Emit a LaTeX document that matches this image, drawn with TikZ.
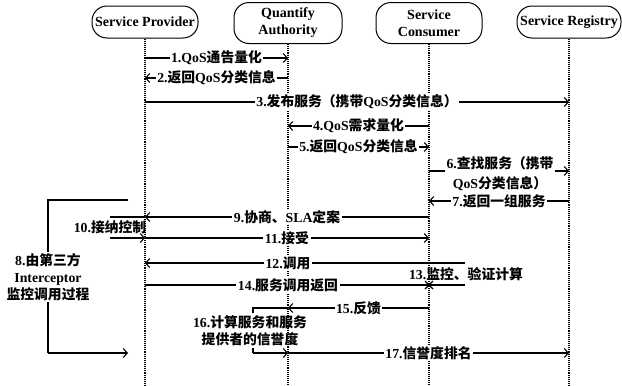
\documentclass[tikz,border=0pt]{standalone}
\usepackage{fontspec}
\setmainfont{Liberation Serif}
\newfontfamily\cjk{Noto Sans CJK SC}
\newcommand\zh[1]{{\cjk #1}}
\usetikzlibrary{arrows.meta,calc}
\begin{document}
\begin{tikzpicture}[x=1pt,y=-1pt,
  actor/.style={draw, line width=1pt, rounded corners=15pt, minimum height=32pt,
    minimum width=106pt, align=center, inner sep=1pt,
    font=\fontsize{14}{17}\selectfont\bfseries},
  life/.style={densely dotted, line width=1.1pt},
  plainln/.style={line width=1.1pt},
  msg/.style={line width=1.1pt, -{Straight Barb[length=4pt,width=9pt]}},
  lbl/.style={fill=white, inner sep=1.5pt, align=center,
    font=\fontsize{13.8}{20}\selectfont\bfseries}
]
\useasboundingbox (0,0) rectangle (622,386);
% actors
\node[actor] (sp) at (145,22) {Service Provider};
\node[actor, minimum height=41pt, minimum width=108pt] (qa) at (288,23) {Quantify\\Authority};
\node[actor, minimum height=41pt] (sc) at (429,23) {Service\\Consumer};
\node[actor, minimum width=104pt] (sr) at (569,22) {Service Registry};
% row coordinates
\coordinate (bot) at (0,386);
\coordinate (r1) at (0,58);
\coordinate (r2) at (0,78);
\coordinate (r3) at (0,102);
\coordinate (r4) at (0,126);
\coordinate (r5) at (0,147);
\coordinate (r6) at (0,171);
\coordinate (r7) at (0,201);
\coordinate (r9) at (0,217);
\coordinate (r11) at (0,238);
\coordinate (r12) at (0,263);
\coordinate (r14) at (0,285);
\coordinate (r15) at (0,308);
\coordinate (r17) at (0,353);
% lifelines
\draw[life] (sp.south) -- (sp |- bot);
\draw[life] (qa.south) -- (qa |- bot);
\draw[life] (sc.south) -- (sc |- bot);
\draw[life] (sr.south) -- (sr |- bot);
% messages
\draw[msg] (sp |- r1) -- node[lbl]{1.QoS\zh{通告量化}} (qa |- r1);
\draw[msg] (qa |- r2) -- node[lbl]{2.\zh{返回}QoS\zh{分类信息}} (sp |- r2);
\draw[msg] (sp |- r3) -- node[lbl]{3.\zh{发布服务（携带}QoS\zh{分类信息）}} (sr |- r3);
\draw[msg] (sc |- r4) -- node[lbl]{4.QoS\zh{需求量化}} (qa |- r4);
\draw[msg] (qa |- r5) -- node[lbl]{5.\zh{返回}QoS\zh{分类信息}} (sc |- r5);
\draw[msg] (sc |- r6) -- (sr |- r6);
\node[lbl] (l6) at (500,174) {6.\zh{查找服务（携带}\\QoS\zh{分类信息）}};
\draw[msg] (sr |- r7) -- node[lbl]{7.\zh{返回一组服务}} (sc |- r7);
% 8 bracket
\coordinate (b8t) at (128,200);
\coordinate (b8tl) at (48,200);
\coordinate (b8bl) at (48,353);
\coordinate (b8b) at (128,353);
\draw[plainln] (b8t) -- (b8tl) -- (b8bl);
\draw[msg] (b8bl) -- (b8b);
\node[lbl] (l8) at (48,277) {8.\zh{由第三方}\\[-3pt]Interceptor\\[-3pt]\zh{监控调用过程}};
% 9, 10, 11
\draw[msg] (sc |- r9) -- node[lbl]{9.\zh{协商、}SLA\zh{定案}} (sp |- r9);
\coordinate (a10t) at (110,217);
\coordinate (a10b) at (110,238);
\draw[plainln] (a10t) -- (sp |- r9);
\draw[msg] (a10b) -- (sp |- r11);
\node[lbl, fill=none] (l10) at (110,227) {10.\zh{接纳控制}};
\draw[msg] (sp |- r11) -- node[lbl]{11.\zh{接受}} (sc |- r11);
% 12, 13, 14
\coordinate (e12) at (465,263);
\coordinate (e14) at (465,285);
\draw[msg] (e12) -- (sp |- r12);
\node[lbl] (l12) at (288,263) {12.\zh{调用}};
\draw[plainln] (sp |- r14) -- (e14);
\node[lbl] (l14) at (288,285) {14.\zh{服务调用返回}};
\node[lbl, fill=none] (l13) at (466,274) {13.\zh{监控、验证计算}};
\draw[plainln] ($(sc |- r14)+(-4,-4)$) -- ++(8,8);
\draw[plainln] ($(sc |- r14)+(-4,4)$) -- ++(8,-8);
% 15, 16, 17
\draw[msg] (sc |- r15) -- node[lbl]{15.\zh{反馈}} (qa |- r15);
\coordinate (b16t) at (253,308);
\coordinate (b16tt) at (253,313);
\coordinate (b16b) at (253,353);
\coordinate (b16bt) at (253,348);
\draw[plainln] (b16tt) -- (b16t) -- (qa |- r15);
\draw[plainln] (b16bt) -- (b16b);
\draw[msg] (b16b) -- (qa |- r17);
\node[lbl, fill=none] (l16) at (250,331) {16.\zh{计算服务和服务}\\[-3pt]\zh{提供者的信誉度}};
\draw[msg] (qa |- r17) -- node[lbl]{17.\zh{信誉度排名}} (sr |- r17);
\end{tikzpicture}
\end{document}
